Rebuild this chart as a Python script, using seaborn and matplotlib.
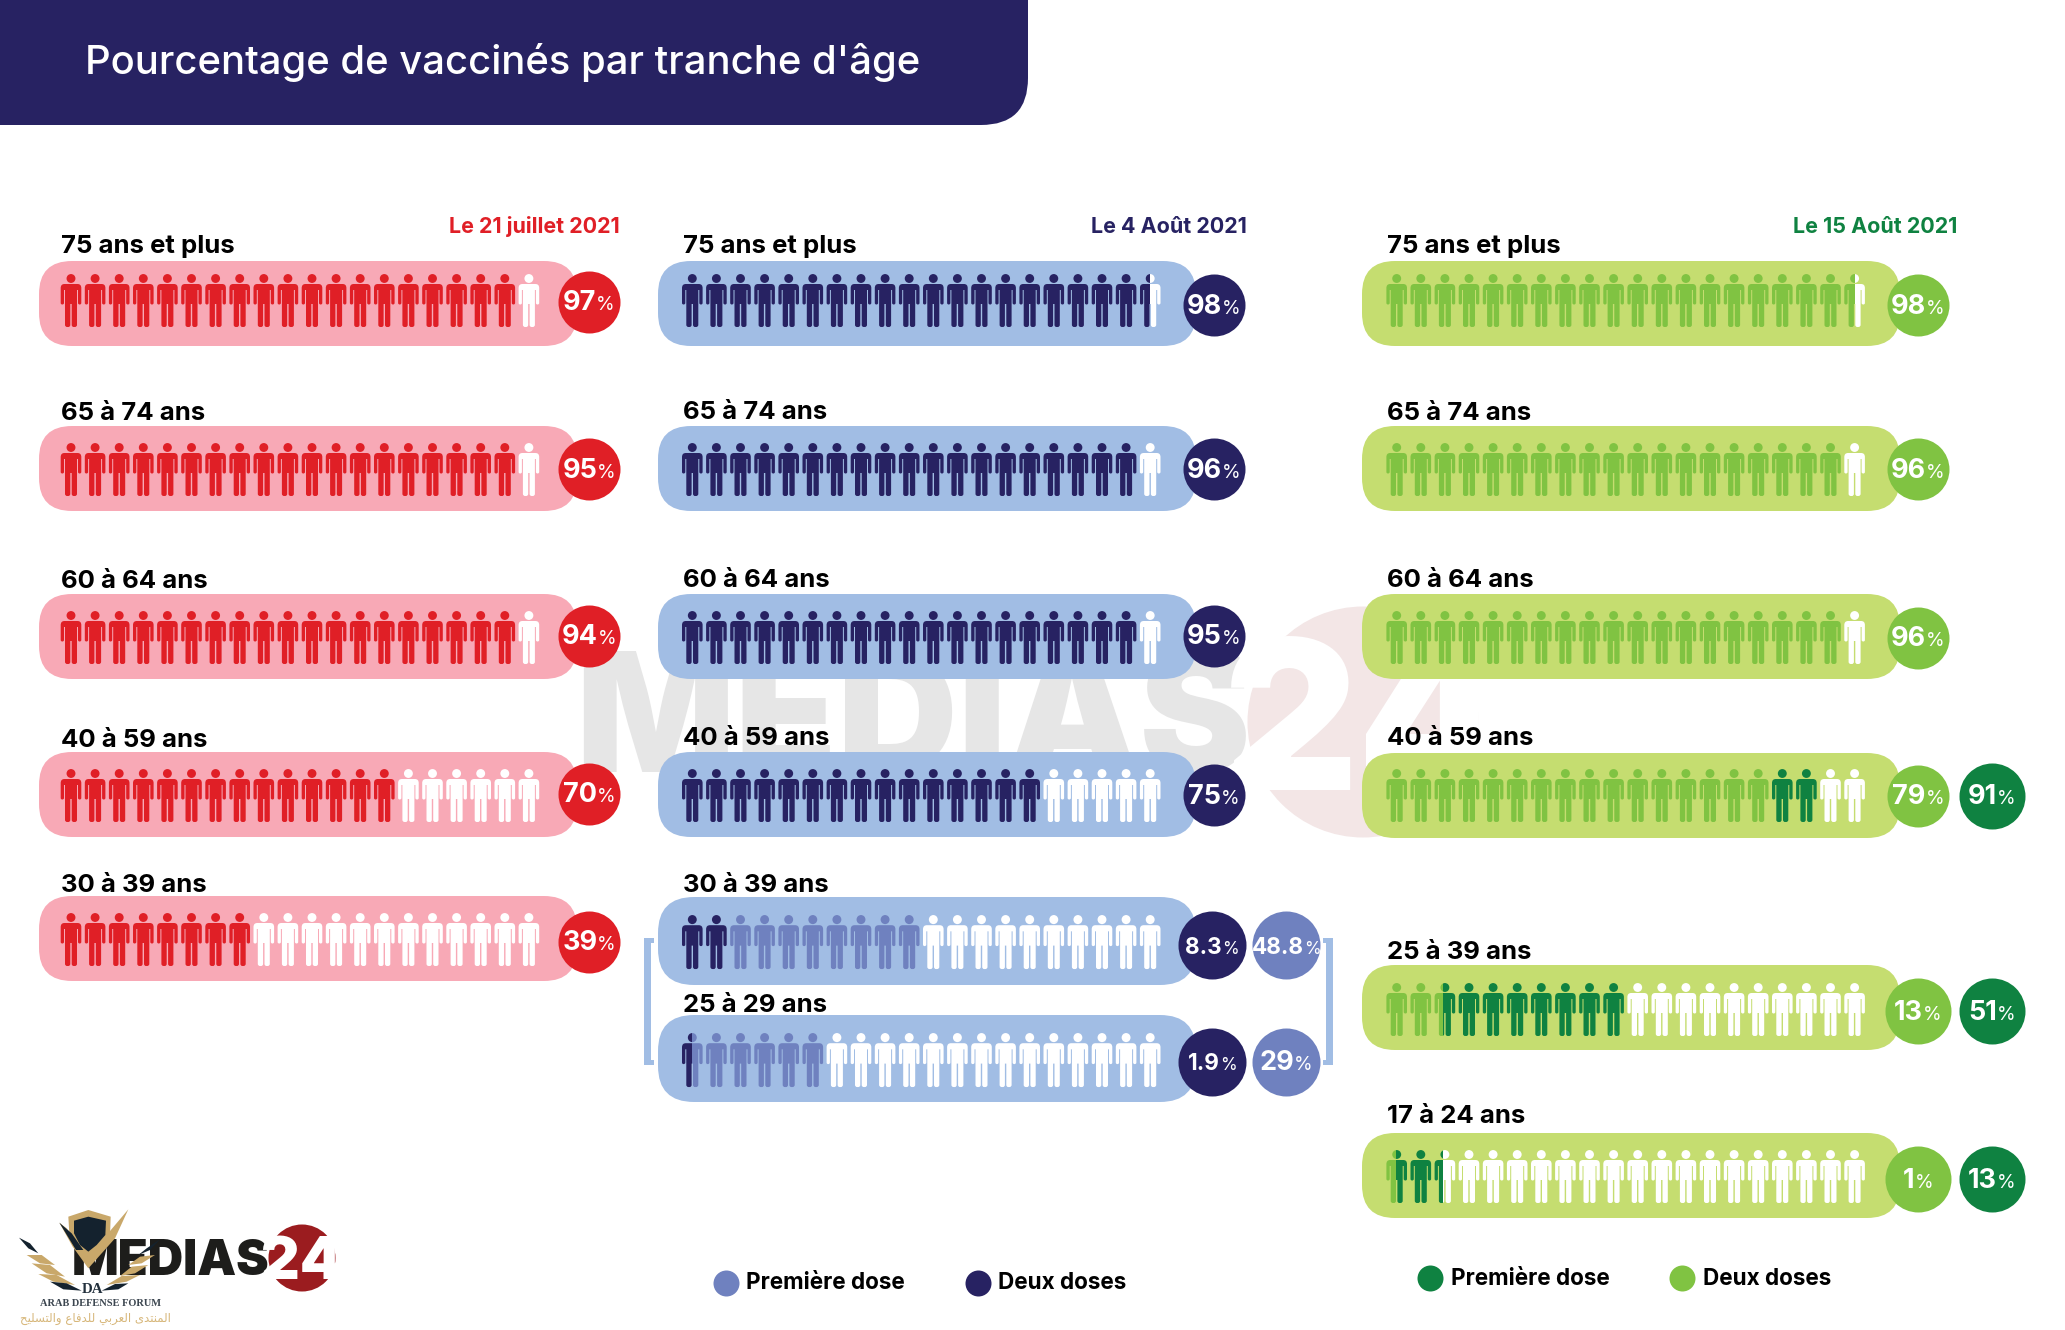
import matplotlib
matplotlib.use("Agg")
import matplotlib.pyplot as plt
import pandas as pd
import seaborn as sns
from matplotlib.patches import FancyBboxPatch, PathPatch, Rectangle, Polygon, Circle
from matplotlib.path import Path
from matplotlib.transforms import Affine2D

# ---------- data ----------
TITLE = "Pourcentage de vaccinés par tranche d'âge"
ICONS_PER_ROW = 20

JUL_DATE = "Le 21 juillet 2021"
JUL_AGES = ["75 ans et plus", "65 à 74 ans", "60 à 64 ans", "40 à 59 ans", "30 à 39 ans"]
JUL_PCT = [97, 95, 94, 70, 39]
JUL_ICONS = [19, 19, 19, 14, 8]

AUG4_DATE = "Le 4 Août 2021"
AUG4_AGES = ["75 ans et plus", "65 à 74 ans", "60 à 64 ans", "40 à 59 ans", "30 à 39 ans", "25 à 29 ans"]
AUG4_TWO_PCT = [98, 96, 95, 75, 8.3, 1.9]
AUG4_ONE_PCT = [None, None, None, None, 48.8, 29]
AUG4_TWO_ICONS = [19.5, 19, 19, 15, 2, 0.5]
AUG4_ONE_ICONS = [0, 0, 0, 0, 8, 5.5]

AUG15_DATE = "Le 15 Août 2021"
AUG15_AGES = ["75 ans et plus", "65 à 74 ans", "60 à 64 ans", "40 à 59 ans", "25 à 39 ans", "17 à 24 ans"]
AUG15_TWO_PCT = [98, 96, 96, 79, 13, 1]
AUG15_ONE_PCT = [None, None, None, 91, 51, 13]
AUG15_TWO_ICONS = [19.5, 19, 19, 16, 2.4, 0.45]
AUG15_ONE_ICONS = [0, 0, 0, 2, 7.6, 1.95]

LEGEND_ONE = "Première dose"
LEGEND_TWO = "Deux doses"

# ---------- styles ----------
NAVY = "#272262"
RED, PINK = "#E01F26", "#F8A9B6"
BLUE_PILL, BLUE_MID = "#A1BDE4", "#6F81BF"
GREEN_PILL, GREEN_LIGHT, GREEN_DARK = "#C5DD70", "#80C342", "#0F8241"
FONT = "Inter"

sns.set_theme(style="white")
plt.rcParams["font.family"] = [FONT, "DejaVu Sans"]

W, H = 2065, 1330
fig = plt.figure(figsize=(W / 100, H / 100), dpi=100, facecolor="white")
ax = fig.add_axes([0, 0, 1, 1])
PT = 0.72  # px -> pt
LABEL_PX = 25.7


def px_text(x, y, s, px, color="black", weight="bold", ha="left", va="baseline", z=6, **kw):
    return ax.text(x, y, s, fontsize=px * PT, color=color, fontweight=weight, ha=ha, va=va, zorder=z, **kw)


# person glyph, in pixels, x centred, y from the top of the head
def person_path():
    M, L, Q = Path.MOVETO, Path.LINETO, Path.CURVE3
    half = [
        ((0, 10), M), ((6.5, 10), L), ((10.3, 10), Q), ((10.3, 14), Q), ((10.3, 29), L),
        ((10.3, 30.5), Q), ((8.7, 30.5), Q), ((7.0, 30.5), Q), ((7.0, 29), Q), ((7.0, 16), L),
        ((6.0, 16), L), ((6.0, 50.8), L), ((6.0, 53), Q), ((3.8, 53), Q),
        ((2.7, 53), L), ((0.7, 53), Q), ((0.7, 50.8), Q), ((0.7, 30), L), ((0, 30), L),
    ]
    v = [p for p, _ in half]
    c = [k for _, k in half]
    # mirrored left half, walked in reverse
    mirror_v, mirror_c = [], []
    for i in range(len(half) - 2, 0, -1):
        mirror_v.append((-v[i][0], v[i][1]))
        mirror_c.append(c[i + 1] if c[i + 1] != M else L)
    vs = v + mirror_v + [(0, 10)]
    cs = c + mirror_c + [L]
    body = Path(vs, cs)
    head = Path.circle((0, 4.5), 4.45)
    return Path.make_compound_path(body, head)


PERSON = person_path()
ICON_W = 21.4


def draw_icon(cx, top, sy, segments):
    """segments: list of (colour, start, end) as fractions of the icon's width"""
    path = PERSON.transformed(Affine2D().scale(1, sy).translate(cx, top))
    for color, a, b in segments:
        patch = PathPatch(path, facecolor=color, edgecolor="none", zorder=3)
        ax.add_patch(patch)
        if a > 0 or b < 1:
            clip = Rectangle((cx - ICON_W / 2 + a * ICON_W, top - 2), (b - a) * ICON_W, 60 * sy,
                             transform=ax.transData)
            patch.set_clip_path(clip)


def draw_row(x0, top, sy, stacks):
    """stacks: [(colour, n_icons), ...]; what is left over is white"""
    full = []
    pos = 0
    for color, n in stacks:
        full.append((color, pos, pos + n))
        pos += n
    full.append(("white", pos, ICONS_PER_ROW))
    for i in range(ICONS_PER_ROW):
        segs = []
        for color, a, b in full:
            lo, hi = max(a, i), min(b, i + 1)
            if hi > lo:
                segs.append((color, lo - i, hi - i))
        draw_icon(x0 + i * 24.1, top, sy, segs)


def pill(x, top, h, color, r=33, w=538):
    ax.add_patch(FancyBboxPatch((x, top), w, h, boxstyle=f"round,pad=0,rounding_size={r}",
                                facecolor=color, edgecolor="none", zorder=2))


badges = []


def badge(cx, cy, r, color, value):
    badges.append(dict(x=cx, y=cy, r=r, c=color))
    num = f"{value:g}"
    big = 22.5 if "." in num else 27
    pct = 17 if "." in num else 19
    t1 = px_text(cx, cy + 8.5, num, big, "white", "bold", z=7)
    t2 = px_text(cx, cy + 8.5, "%", pct, "white", "normal", z=7)
    rd = fig.canvas.get_renderer()
    w1 = t1.get_window_extent(rd).width
    w2 = t2.get_window_extent(rd).width
    left = cx - (w1 + w2) / 2
    t1.set_x(left)
    t2.set_x(left + w1)


# ---------- banner ----------
ax.add_patch(FancyBboxPatch((-120, -120), 1148, 245, boxstyle="round,pad=0,rounding_size=47",
                            facecolor=NAVY, edgecolor="none", zorder=2))
px_text(85, 74, TITLE, 40, "white", "medium")

# ---------- watermark ----------
ax.add_patch(Circle((1363, 722), 115.5, facecolor="#F3E6E6", edgecolor="none", zorder=1))
px_text(575, 772, "MEDIAS", 167, "#E6E6E6", 900, z=1)
ax.add_patch(Polygon([(1232, 654), (1245, 660), (1226, 679), (1226, 672), (1170, 672), (1170, 660), (1226, 660)],
                     closed=True, facecolor="#E6E6E6", edgecolor="none", zorder=1))
px_text(1364, 790, "24", 208, "white", 900, ha="center", z=1.5)

# ---------- panel 1 : 21 juillet ----------
JUL_TOPS = [261, 426, 594, 752, 896]
JUL_BASE = [253, 420, 588, 747, 892]
JUL_ICON_TOP = [274, 443, 611, 769, 913]
JUL_CY = [302, 469, 636, 794, 942]
px_text(620, 233, JUL_DATE, 21.5, RED, ha="right")
for i, age in enumerate(JUL_AGES):
    pill(39, JUL_TOPS[i], 85, PINK)
    px_text(61, JUL_BASE[i], age, LABEL_PX, "black")
    draw_row(71, JUL_ICON_TOP[i], 1, [(RED, JUL_ICONS[i])])
    badge(589, JUL_CY[i], 31, RED, JUL_PCT[i])

# ---------- panel 2 : 4 août ----------
A4_TOPS = [261, 426, 594, 752, 897, 1015]
A4_H = [85, 85, 85, 85, 88, 87]
A4_BASE = [253, 419, 587, 745, 892, 1012]
A4_ICON_TOP = [274, 443, 611, 769, 915, 1033]
A4_CY = [305, 469, 636, 795, 945, 1062]
px_text(1247, 233, AUG4_DATE, 21.5, NAVY, ha="right")
for i, age in enumerate(AUG4_AGES):
    big = AUG4_ONE_PCT[i] is not None
    pill(658, A4_TOPS[i], A4_H[i], BLUE_PILL, r=36 if big else 33)
    px_text(683, A4_BASE[i], age, LABEL_PX, "black")
    draw_row(692.3, A4_ICON_TOP[i], 1.02 if big else 1,
             [(NAVY, AUG4_TWO_ICONS[i]), (BLUE_MID, AUG4_ONE_ICONS[i])])
    if big:
        badge(1212, A4_CY[i], 34, NAVY, AUG4_TWO_PCT[i])
        badge(1286, A4_CY[i], 34, BLUE_MID, AUG4_ONE_PCT[i])
    else:
        badge(1213.7, A4_CY[i], 31, NAVY, AUG4_TWO_PCT[i])

# brackets
for rx, w, dirn in [(644, 7, 1), (1326, 7, -1)]:
    ax.add_patch(Rectangle((rx, 938), w, 127, facecolor=BLUE_PILL, edgecolor="none", zorder=2))
    tx = rx if dirn > 0 else rx - 3
    for ty in (938, 1060):
        ax.add_patch(Rectangle((tx, ty), w + 3, 5, facecolor=BLUE_PILL, edgecolor="none", zorder=2))

# ---------- panel 3 : 15 août ----------
A15_TOPS = [261, 426, 594, 753, 965, 1133]
A15_H = [85, 85, 85, 85, 85, 85]
A15_BASE = [253, 420, 587, 745, 959, 1123]
A15_ICON_TOP = [274, 443, 611, 769, 983, 1150]
A15_CY = [305, 469, 638, 796, 1011, 1179]
px_text(1957, 233, AUG15_DATE, 21.5, GREEN_DARK, ha="right")
for i, age in enumerate(AUG15_AGES):
    pill(1362, A15_TOPS[i], A15_H[i], GREEN_PILL)
    px_text(1387, A15_BASE[i], age, LABEL_PX, "black")
    draw_row(1396.7, A15_ICON_TOP[i], 1,
             [(GREEN_LIGHT, AUG15_TWO_ICONS[i]), (GREEN_DARK, AUG15_ONE_ICONS[i])])
    has_one = AUG15_ONE_PCT[i] is not None
    badge(1918, A15_CY[i], 33 if i >= 4 else 31, GREEN_LIGHT, AUG15_TWO_PCT[i])
    if has_one:
        badge(1992, A15_CY[i], 33, GREEN_DARK, AUG15_ONE_PCT[i])

# ---------- legends ----------
for cx, tx, cy, base, col, lab in [
    (726, 746.5, 1283, 1289, BLUE_MID, LEGEND_ONE),
    (977.5, 998, 1283, 1289, NAVY, LEGEND_TWO),
    (1429.7, 1451, 1278, 1285, GREEN_DARK, LEGEND_ONE),
    (1681.5, 1702.6, 1278, 1285, GREEN_LIGHT, LEGEND_TWO),
]:
    badges.append(dict(x=cx, y=cy, r=13, c=col))
    px_text(tx, base, lab, 22.5, "black")

# badges through seaborn, one call per size/colour group
bdf = pd.DataFrame(badges)
for (r, c), g in bdf.groupby(["r", "c"]):
    sns.scatterplot(data=g, x="x", y="y", color=c, s=(2 * r * PT) ** 2, linewidth=0,
                    marker="o", legend=False, ax=ax, zorder=4)

# ---------- logo, bottom left ----------
def lc(pts):
    return [(x / 3, 1200 + y / 3) for x, y in pts]


GOLD, LOGO_DARK = "#C9A86A", "#14222E"
px_text(72, 1275, "MEDIAS", 49, "#1D1D1B", 900, z=5)
ax.add_patch(Circle((302, 1258), 33.5, facecolor="#9B1C1F", edgecolor="none", zorder=5))
px_text(301, 1279, "24", 60, "white", 900, ha="center", z=5.5)
for pts, col in [
    ([(205, 50), (265, 30), (332, 50), (330, 110), (300, 150), (265, 172), (225, 140), (208, 100)], GOLD),
    ([(222, 62), (265, 50), (318, 62), (316, 105), (290, 135), (265, 155), (240, 135), (222, 100)], LOGO_DARK),
    ([(178, 68), (200, 85), (265, 170), (385, 28), (345, 115), (265, 205), (218, 140)], GOLD),
    ([(178, 68), (215, 100), (250, 150), (228, 150)], LOGO_DARK),
    ([(57, 113), (90, 130), (115, 160), (85, 145)], LOGO_DARK),
    ([(80, 165), (125, 165), (165, 195), (120, 190)], GOLD),
    ([(95, 190), (150, 195), (195, 230), (140, 220)], GOLD),
    ([(115, 222), (170, 225), (225, 255), (160, 245)], GOLD),
    ([(150, 245), (200, 250), (245, 272), (190, 268)], LOGO_DARK),
    ([(480, 118), (440, 145), (415, 165), (450, 150)], LOGO_DARK),
    ([(465, 165), (420, 170), (385, 195), (425, 190)], GOLD),
    ([(445, 195), (395, 200), (360, 228), (405, 220)], GOLD),
    ([(420, 225), (365, 228), (320, 255), (380, 245)], GOLD),
    ([(385, 250), (345, 252), (305, 272), (355, 268)], LOGO_DARK),
]:
    ax.add_patch(Polygon(lc(pts), closed=True, facecolor=col, edgecolor="none", zorder=5.2))
px_text(82, 1293, "DA", 15, "#22303C", "bold", z=5.3, family="Liberation Serif")
px_text(40, 1306, "ARAB DEFENSE FORUM", 10.4, "#3C4650", "bold", z=5.3, family="Liberation Serif")
ARABIC = "\ufe8d\ufedf\ufee4\ufee8\ufe98\ufeaa\ufeef \ufe8d\ufedf\ufecc\ufeae\ufe91\ufef2 \ufedf\ufee0\ufeaa\ufed3\ufe8e\ufec9 \ufeed\ufe8d\ufedf\ufe98\ufeb4\ufee0\ufef4\ufea2"
px_text(20, 1322, ARABIC[::-1], 11.8, "#D7B77A", "normal", z=5.3, family="DejaVu Sans")

ax.set_xlim(0, W)
ax.set_ylim(H, 0)
ax.set_axis_off()
fig.savefig("out.png", dpi=100, facecolor="white")
